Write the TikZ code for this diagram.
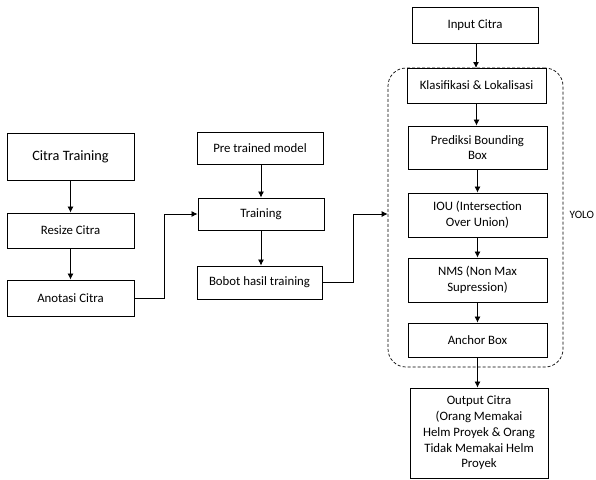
\documentclass[tikz,border=0pt]{standalone}
\usepackage{fontspec}
\setmainfont{Carlito}
\usetikzlibrary{arrows.meta}
\begin{document}
\begin{tikzpicture}[x=1pt,y=-1pt,
  box/.style={draw=black,line width=0.9pt,fill=white,align=center,inner sep=1pt,font=\fontsize{12.8}{15.7}\selectfont},
  arr/.style={draw=black,line width=0.8pt,-{Latex[length=6pt,width=6pt]}}]
\useasboundingbox (0,0) rectangle (596,479);
\node[draw=black,dashed,dash pattern=on 3pt off 2pt,line width=0.7pt,rounded corners=18pt,minimum width=175pt,minimum height=299pt] (yolo) at (475.5,217.5) {};
\node[box,minimum width=127pt,minimum height=47pt,font=\fontsize{14.3}{17}\selectfont] (cit) at (70.5,156.5) {Citra Training};
\node[box,minimum width=127pt,minimum height=35pt] (res) at (70.5,230.5) {Resize Citra};
\node[box,minimum width=127pt,minimum height=36pt] (ano) at (70.5,298) {Anotasi Citra};
\node[box,minimum width=126pt,minimum height=32pt] (pre) at (260,148) {Pre trained model};
\node[box,minimum width=126pt,minimum height=32pt] (tra) at (261,214) {Training};
\node[box,minimum width=125pt,minimum height=33pt] (bob) at (259.5,282.5) {Bobot hasil training};
\node[box,minimum width=126pt,minimum height=36pt] (inp) at (475,25) {Input Citra};
\node[box,minimum width=139pt,minimum height=35pt] (kla) at (476.5,85.5) {Klasifikasi \& Lokalisasi};
\node[box,minimum width=139pt,minimum height=43pt] (pred) at (477.5,147.5) {Prediksi Bounding\\Box};
\node[box,minimum width=139pt,minimum height=44pt] (iou) at (477.5,215) {IOU (Intersection\\Over Union)};
\node[box,minimum width=139pt,minimum height=44pt] (nms) at (477.5,280) {NMS (Non Max\\Supression)};
\node[box,minimum width=139pt,minimum height=34pt] (anc) at (477.5,340) {Anchor Box};
\node[box,minimum width=138pt,minimum height=90pt] (out) at (479,433) {Output Citra\\(Orang Memakai\\Helm Proyek \& Orang\\Tidak Memakai Helm\\Proyek};
\node[anchor=west,inner sep=0pt,font=\fontsize{11.2}{13}\selectfont] (lab) at (569.5,215) {YOLO};
\coordinate (c1) at (164,214);
\coordinate (c2) at (353,214);
\draw[arr] (cit.south) -- (res.north);
\draw[arr] (res.south) -- (ano.north);
\draw[arr] (ano.east) -| (c1) -- (tra.west);
\draw[arr] (pre.south -| tra.north) -- (tra.north);
\draw[arr] (tra.south) -- (tra.south |- bob.north);
\draw[arr] (bob.east) -| (c2) -- (yolo.west |- c2);
\draw[arr] (inp.south -| 476,0) -- (476,68);
\draw[arr] (kla.south) -- (kla.south |- pred.north);
\draw[arr] (pred.south) -- (iou.north);
\draw[arr] (iou.south) -- (nms.north);
\draw[arr] (nms.south) -- (anc.north);
\draw[arr] (anc.south) -- (anc.south |- out.north);
\end{tikzpicture}
\end{document}
